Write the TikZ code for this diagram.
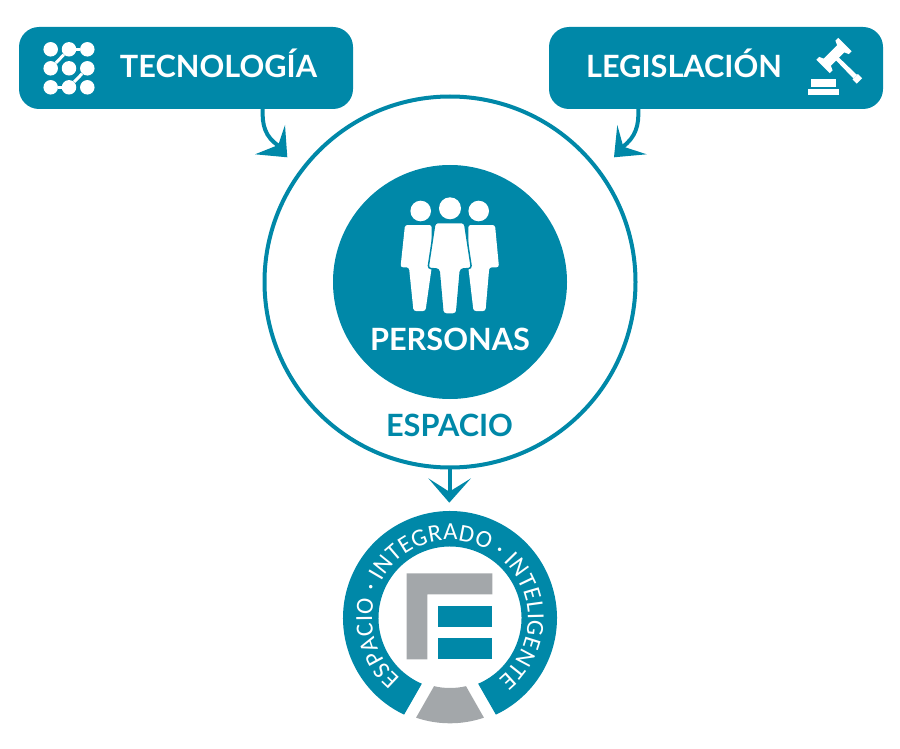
\documentclass[tikz,border=0pt]{standalone}
\usepackage{fontspec}
\usetikzlibrary{decorations.text}
\setmainfont{Lato}
\newfontfamily\ringf{Carlito}
\definecolor{teal1}{HTML}{0088A8}
\definecolor{grey1}{HTML}{A3A7AA}
\tikzset{
  banner/.style={fill=teal1,draw=none,rounded corners=20pt},
  label/.style={font=\bfseries\fontsize{30.7}{30.7}\selectfont,inner sep=0pt,anchor=base},
  dot/.style={circle,fill=white,draw=none,minimum size=14.5pt,inner sep=0pt},
  wire/.style={draw=white,line width=3pt},
  link/.style={draw=teal1,line width=4pt},
  head/.style={fill=teal1,draw=none},
  pers/.style={fill=white,draw=none,rounded corners=2.5pt},
  persb/.style={fill=white,draw=teal1,line width=1.5pt,rounded corners=3pt}
}
\begin{document}
\begin{tikzpicture}[x=1pt,y=-1pt]
\useasboundingbox (0,0) rectangle (900,749);
% banners
\fill[banner] (19,27) rectangle (353,109);
\fill[banner] (549,27) rectangle (883,109);
\node[label,text=white] (t1) at (218.5,78) {TECNOLOGÍA};
\node[label,text=white] (t2) at (684,78) {LEGISLACIÓN};
% connector left
\coordinate (la) at (262.7,109);
\coordinate (lb) at (279,146);
\draw[link] (la) .. controls (262,125) and (265,137) .. (lb);
\fill[head] (287.3,157.3) -- (285,125) -- (278.3,145) -- (255,154.3) -- cycle;
% connector right
\coordinate (ra) at (638.3,109);
\coordinate (rb) at (622.5,147);
\draw[link] (ra) .. controls (639,125) and (636,137) .. (rb);
\fill[head] (614,157.3) -- (617.3,125) -- (623.3,146.7) -- (646.7,154.3) -- cycle;
% circuit icon
\foreach \n/\x/\y in {a/50.7/49.3,b/69/49.3,c/87.3/49.3,d/50.7/68.3,e/69/68.3,f/87.3/68.3,g/50.7/87.3,h/69/87.3,i/87.3/87.3}
  \node[dot] (\n) at (\x,\y) {};
\draw[wire] (b) -- (c); \draw[wire] (b) -- (d); \draw[wire] (g) -- (h);
\draw[wire] (f) -- (h);
% gavel
\fill[white] (811,79) rectangle (836,87);
\fill[white] (808,89) rectangle (838.5,95.5);
\begin{scope}[x=1pt,y=1pt,shift={(834pt,-55.5pt)},rotate=45]
 \fill[white] (-11,-5) -- (11,-5) -- (11,5) -- (-11,5) -- cycle;
 \fill[white] (-15.5,-9.5) -- (-11.5,-9.5) -- (-9,-4) -- (-9,4) -- (-11.5,9.5) -- (-15.5,9.5) -- cycle;
 \fill[white] (15.5,-9.5) -- (11.5,-9.5) -- (9,-4) -- (9,4) -- (11.5,9.5) -- (15.5,9.5) -- cycle;
 \fill[white] (-2,-4) -- (2,-4) -- (2.5,-30) -- (-2.5,-30) -- cycle;
 \fill[white] (-3.8,-30) rectangle (3.8,-36);
\end{scope}
% big circle
\node[circle,draw=teal1,line width=4pt,minimum size=371pt,inner sep=0pt] (space) at (450,282) {};
\node[circle,fill=teal1,minimum size=234pt,inner sep=0pt] (people) at (450,282) {};
\node[label,text=white] (pl) at (450,350) {PERSONAS};
\node[label,text=teal1] (el) at (449.5,436) {ESPACIO};
% people
\fill[white] (420.7,211) circle (10.3);
\fill[white] (478.7,211) circle (10.3);
\fill[white] (450,208.3) circle (11);
\fill[pers] (405,225) -- (431.7,225) -- (431.7,267.3) -- (425.5,311) -- (413.5,311) -- (409,267.3) -- (400.5,267.3) -- cycle;
\fill[pers] (468.3,225) -- (495,225) -- (499,267.3) -- (489.3,267.3) -- (485.5,311) -- (473.5,311) -- (468.3,267.3) -- cycle;
\fill[persb] (435,222.5) -- (464.5,222.5) -- (471.5,268.5) -- (460.5,269) -- (456.5,314) -- (443,314) -- (439,269) -- (428,268.5) -- cycle;
% down arrow
\draw[link] (449.5,468) -- (449.5,493);
\fill[head] (449.3,502.7) -- (428.3,478.3) -- (449.3,491.7) -- (471,478.3) -- cycle;
% logo
\begin{scope}[x=1pt,y=1pt,shift={(450pt,-618pt)}]
 \coordinate (lc) at (0,0);
 \fill[teal1] (244.6:107) arc[start angle=244.6,end angle=-64.6,radius=107pt] -- (-66.8:71.5) arc[start angle=-66.8,end angle=246.8,radius=71.5pt] -- cycle;
 \fill[grey1] (251.2:105.3) arc[start angle=251.2,end angle=288.8,radius=105.3pt] -- (283.2:70) arc[start angle=283.2,end angle=256.8,radius=70pt] -- cycle;
 \path[postaction={decorate,decoration={text along path,text align=fit to path,
   text={|\ringf\fontsize{24.5}{24.5}\selectfont\color{white}|ESPACIO · INTEGRADO · INTELIGENTE}}}]
   (231:78) arc[start angle=231,end angle=-52,radius=78pt];
\end{scope}
\fill[grey1] (406.7,573.3) -- (492.3,573.3) -- (492.3,594.3) -- (427.3,594.3) -- (427.3,659.3) -- (406.7,659.3) -- cycle;
\fill[teal1] (438.3,606) rectangle (492.3,627.3);
\fill[teal1] (438.3,638.3) rectangle (492.3,659.3);
\end{tikzpicture}
\end{document}
